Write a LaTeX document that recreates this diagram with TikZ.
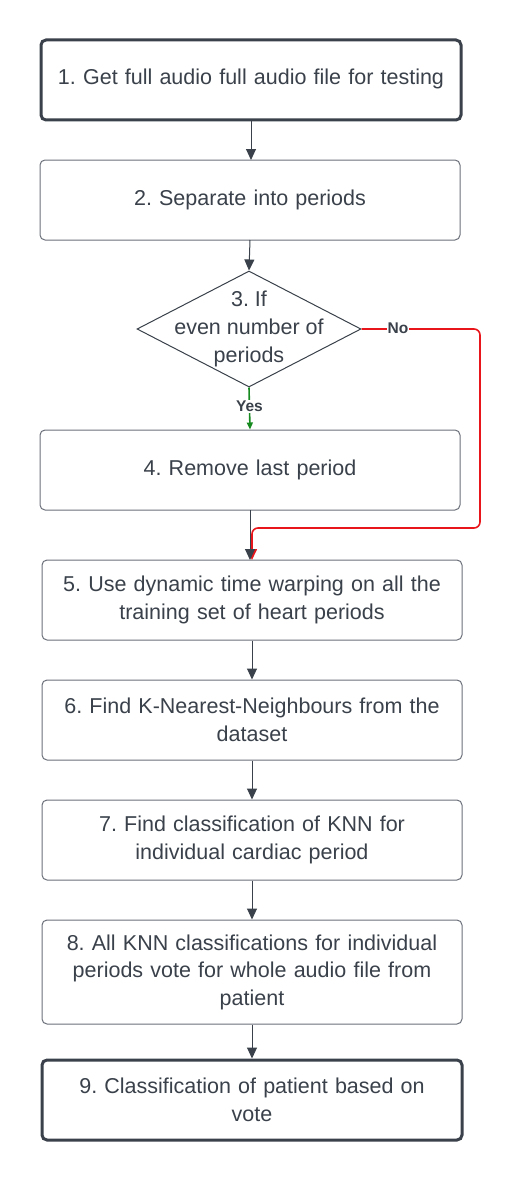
\documentclass[tikz,border=0pt]{standalone}
\usepackage{fontspec}
\setmainfont{Liberation Sans}
\usetikzlibrary{arrows.meta,shapes.geometric}
\definecolor{ink}{HTML}{3A414A}
\definecolor{edge}{HTML}{6B7079}
\definecolor{nored}{HTML}{E8161B}
\definecolor{yesgreen}{HTML}{168A1E}
\tikzset{
  stepbox/.style={draw=edge, line width=1pt, rounded corners=5pt, fill=white,
    minimum width=420pt, minimum height=80pt, text width=410pt, align=center,
    font=\frenchspacing\fontsize{21.5}{27.5}\selectfont, text=ink, inner sep=0pt},
  termbox/.style={stepbox, draw=ink, line width=3pt},
  decision/.style={diamond, draw=ink, line width=1pt, fill=white, aspect=1.93,
    minimum width=224pt, minimum height=116pt, inner sep=0pt},
  dtext/.style={align=center, font=\frenchspacing\fontsize{21.5}{28}\selectfont, text=ink, inner sep=0pt},
  flow/.style={draw=ink, line width=1pt, -{Triangle[width=10pt,length=11pt]}},
  lbl/.style={fill=white, font=\bfseries\fontsize{15.5}{17}\selectfont, text=ink, inner sep=1pt}
}
\begin{document}
\begin{tikzpicture}[x=1pt,y=-1pt]
\useasboundingbox (0,0) rectangle (521,1180);
\node[termbox, text depth=6pt] (s1) at (251,80) {1. Get full audio full audio file for testing};
\node[stepbox] (s2) at (250,200) {2. Separate into periods};
\node[decision] (s3) at (249,329) {};
\node[dtext] (t3) at (s3) {3. If\\even number of\\periods};
\node[stepbox] (s4) at (250,470) {4. Remove last period};
\node[stepbox] (s5) at (252,600) {5. Use dynamic time warping on all the\\training set of heart periods};
\node[stepbox] (s6) at (252,720) {6. Find K-Nearest-Neighbours from the\\dataset};
\node[stepbox] (s7) at (252,840) {7. Find classification of KNN for\\individual cardiac period};
\node[stepbox, minimum height=104pt] (s8) at (252,972) {8. All KNN classifications for individual\\periods vote for whole audio file from\\patient};
\node[termbox] (s9) at (252,1100) {9. Classification of patient based on\\vote};
\coordinate (nr1) at (480,329);
\coordinate (nr2) at (480,528);
\coordinate (nr3) at (252,528);
\coordinate (in5) at (252,560);
\draw[draw=nored, line width=1.6pt, rounded corners=6pt, -{Triangle[width=10pt,length=11pt]}]
  (s3.east) -- (nr1) -- (nr2) -- (nr3) -- (in5);
\node[lbl] at (398,328) {No};
\draw[draw=yesgreen, line width=1.6pt, -{Triangle[width=6pt,length=7pt]}] (s3.south) -- (s4.north)
  node[lbl, pos=0.45] {Yes};
\draw[flow] (251,120) -- (251,160);
\draw[flow] (250,240) -- (s3.north);
\draw[flow] (250,510) -- (250,560);
\draw[flow] (s5.south) -- (s6.north);
\draw[flow] (s6.south) -- (s7.north);
\draw[flow] (s7.south) -- (s8.north);
\draw[flow] (s8.south) -- (s9.north);
\end{tikzpicture}
\end{document}
